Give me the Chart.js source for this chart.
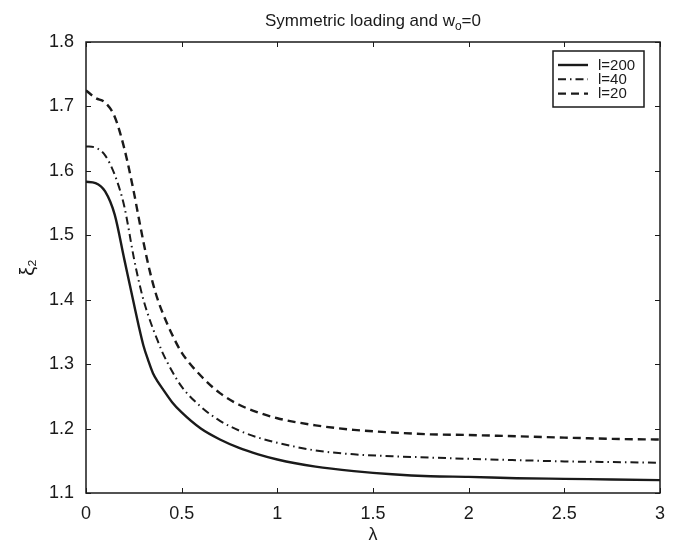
<!DOCTYPE html>
<html>
<head>
<meta charset="utf-8">
<script src="https://cdn.jsdelivr.net/npm/chart.js@4/dist/chart.umd.min.js"></script>
<style>
  html, body { margin: 0; padding: 0; background: #fff; }
  #wrap { width: 677px; height: 547px; }
</style>
</head>
<body>
<div id="wrap"><canvas id="c" width="677" height="547"></canvas></div>
<script>
// ---- data ----
const lambdaValues = [0, 0.05, 0.1, 0.15, 0.2, 0.25, 0.275, 0.3, 0.325, 0.35, 0.375, 0.4, 0.45, 0.5, 0.6, 0.7, 0.8, 0.9, 1.0, 1.2, 1.4, 1.6, 1.8, 2.0, 2.25, 2.5, 2.75, 3.0];
const xi_l200 = [1.583, 1.581, 1.568, 1.532, 1.463, 1.394, 1.360, 1.329, 1.306, 1.286, 1.273, 1.262, 1.241, 1.225, 1.200, 1.183, 1.170, 1.160, 1.152, 1.141, 1.134, 1.129, 1.126, 1.125, 1.123, 1.122, 1.121, 1.120];
const xi_l40  = [1.638, 1.636, 1.624, 1.594, 1.545, 1.465, 1.430, 1.400, 1.376, 1.355, 1.336, 1.318, 1.289, 1.265, 1.234, 1.212, 1.197, 1.186, 1.178, 1.166, 1.160, 1.157, 1.155, 1.153, 1.151, 1.149, 1.148, 1.147];
const xi_l20  = [1.725, 1.713, 1.706, 1.684, 1.635, 1.567, 1.528, 1.490, 1.455, 1.425, 1.400, 1.380, 1.346, 1.318, 1.282, 1.255, 1.237, 1.225, 1.216, 1.205, 1.198, 1.194, 1.191, 1.190, 1.188, 1.186, 1.184, 1.183];
const seriesLabels = ['l=200', 'l=40', 'l=20'];
const xTicks = [0, 0.5, 1, 1.5, 2, 2.5, 3];
const yTicks = [1.1, 1.2, 1.3, 1.4, 1.5, 1.6, 1.7, 1.8];
const titleMain = 'Symmetric loading and w';
const titleSub = 'o';
const titleTail = '=0';

const FONT = "'Liberation Sans', Arial, Helvetica, sans-serif";
const INK = '#1a1a1a';

function pts(ys) { return lambdaValues.map((x, i) => ({ x: x, y: ys[i] })); }

const dashStyles = [[], [8, 4, 1.5, 4], [8, 5]];
const widths = [2.4, 2.0, 2.4];

const frameAndExtras = {
  id: 'frameAndExtras',
  afterDatasetsDraw(chart) {
    const ctx = chart.ctx;
    const a = chart.chartArea;
    const xs = chart.scales.x, ys = chart.scales.y;
    ctx.save();
    // frame
    ctx.strokeStyle = INK;
    ctx.lineWidth = 1.5;
    ctx.setLineDash([]);
    ctx.strokeRect(a.left, a.top, a.right - a.left, a.bottom - a.top);
    // inward ticks
    const tl = 5;
    ctx.lineWidth = 1;
    ctx.beginPath();
    xTicks.forEach(v => {
      const px = Math.round(xs.getPixelForValue(v)) + 0.5;
      ctx.moveTo(px, a.bottom); ctx.lineTo(px, a.bottom - tl);
      ctx.moveTo(px, a.top); ctx.lineTo(px, a.top + tl);
    });
    yTicks.forEach(v => {
      const py = Math.round(ys.getPixelForValue(v)) + 0.5;
      ctx.moveTo(a.left, py); ctx.lineTo(a.left + tl, py);
      ctx.moveTo(a.right, py); ctx.lineTo(a.right - tl, py);
    });
    ctx.stroke();

    // legend
    const bw = 91, bh = 56;
    const bx = a.right - 16 - bw, by = a.top + 9;
    ctx.fillStyle = '#fff';
    ctx.fillRect(bx, by, bw, bh);
    ctx.lineWidth = 1.5;
    ctx.strokeStyle = INK;
    ctx.strokeRect(bx, by, bw, bh);
    ctx.font = '15px ' + FONT;
    ctx.textBaseline = 'middle';
    ctx.textAlign = 'left';
    chart.data.datasets.forEach((ds, i) => {
      const ry = by + 14 + i * 14.3;
      ctx.beginPath();
      ctx.setLineDash(ds.borderDash || []);
      ctx.lineWidth = ds.borderWidth;
      ctx.strokeStyle = ds.borderColor;
      ctx.moveTo(bx + 5, ry); ctx.lineTo(bx + 35, ry);
      ctx.stroke();
      ctx.setLineDash([]);
      ctx.fillStyle = INK;
      ctx.fillText(ds.label, bx + 45, ry + 0.5);
    });

    // title with subscript
    const cx = (a.left + a.right) / 2;
    const ty = 20;
    const mainFont = '17px ' + FONT, subFont = '12px ' + FONT;
    ctx.font = mainFont;
    const w1 = ctx.measureText(titleMain).width;
    const w3 = ctx.measureText(titleTail).width;
    ctx.font = subFont;
    const w2 = ctx.measureText(titleSub).width;
    let x0 = cx - (w1 + w2 + w3) / 2;
    ctx.fillStyle = INK;
    ctx.textBaseline = 'alphabetic';
    ctx.font = mainFont;
    ctx.fillText(titleMain, x0, ty + 6);
    ctx.font = subFont;
    ctx.fillText(titleSub, x0 + w1, ty + 10);
    ctx.font = mainFont;
    ctx.fillText(titleTail, x0 + w1 + w2, ty + 6);
    ctx.restore();
  }
};

const chart = new Chart(document.getElementById('c'), {
  type: 'line',
  data: {
    datasets: [xi_l200, xi_l40, xi_l20].map((ys, i) => ({
      label: seriesLabels[i],
      data: pts(ys),
      borderColor: INK,
      borderWidth: widths[i],
      borderDash: dashStyles[i],
      pointRadius: 0,
      fill: false,
      cubicInterpolationMode: 'monotone'
    }))
  },
  options: {
    responsive: false,
    devicePixelRatio: 1,
    animation: false,
    layout: { padding: { top: 42, right: 17, bottom: 0, left: 0 } },
    plugins: { legend: { display: false }, title: { display: false }, tooltip: { enabled: false } },
    scales: {
      x: {
        type: 'linear', min: 0, max: 3,
        afterBuildTicks: s => { s.ticks = xTicks.map(v => ({ value: v })); },
        afterFit: s => { s.height = 54; },
        grid: { display: false },
        border: { display: false },
        ticks: { font: { family: FONT, size: 18 }, color: INK, padding: 2, maxRotation: 0, callback: v => String(v) },
        title: { display: true, text: 'λ', font: { family: FONT, size: 18 }, color: INK, padding: { top: 0, bottom: 1 } }
      },
      y: {
        type: 'linear', min: 1.1, max: 1.8,
        afterBuildTicks: s => { s.ticks = yTicks.map(v => ({ value: v })); },
        afterFit: s => { s.width = 86; },
        grid: { display: false },
        border: { display: false },
        ticks: { font: { family: FONT, size: 18 }, color: INK, padding: 4, callback: v => v.toFixed(1) },
        title: { display: true, text: 'ξ₂', font: { family: FONT, size: 20 }, color: INK, padding: { top: 16, bottom: 0 } }
      }
    }
  },
  plugins: [frameAndExtras]
});
</script>
</body>
</html>
